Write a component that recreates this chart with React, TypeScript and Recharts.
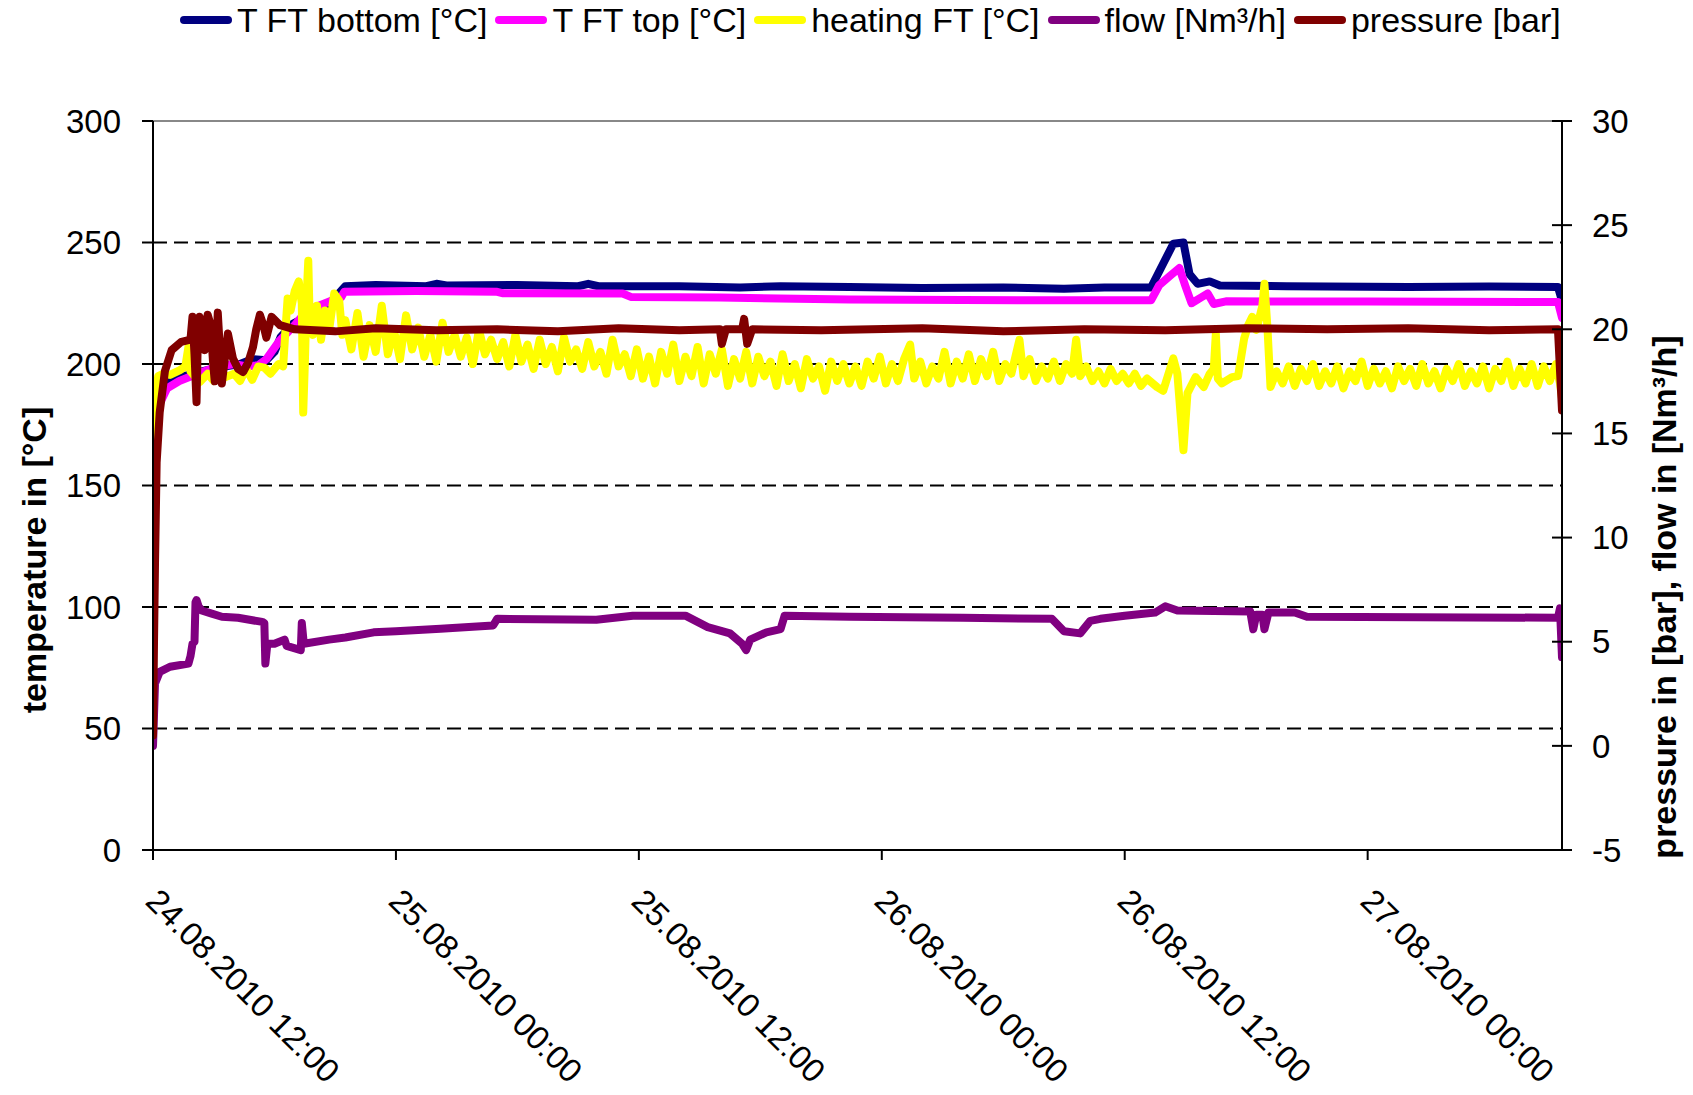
import React from "react";
import { LineChart, Line, XAxis, YAxis, CartesianGrid, ReferenceLine } from "recharts";

const FONT = '"Liberation Sans", Arial, sans-serif';

// x axis: hours since 24.08.2010 12:00
const timeTicks = [0, 12, 24, 36, 48, 60];
const timeLabels = [
  "24.08.2010 12:00",
  "25.08.2010 00:00",
  "25.08.2010 12:00",
  "26.08.2010 00:00",
  "26.08.2010 12:00",
  "27.08.2010 00:00",
];
const tempTicks = [0, 50, 100, 150, 200, 250, 300];
const rightTicks = [-5, 0, 5, 10, 15, 20, 25, 30];

const seriesNames = ["T FT bottom [°C]", "T FT top [°C]", "heating FT [°C]", "flow [Nm³/h]", "pressure [bar]"];
const seriesColors = ["#000080", "#FF00FF", "#FFFF00", "#800080", "#800000"];

// [hour, °C]
const bottomPts: [number, number][] = [
  [0, 160], [0.1, 180], [0.3, 187], [0.6, 192], [1.3, 194.5], [2.2, 196.5], [3.2, 198.5], [4.3, 200],
  [4.9, 202], [5.6, 201.5], [6.0, 205], [6.3, 211], [6.9, 216.5], [7.6, 219.5], [8.25, 222], [8.9, 226.5],
  [9.5, 232], [11, 232.5], [13.5, 232], [14, 233], [14.5, 232.3], [18, 232.5], [21, 232], [21.5, 233],
  [22, 232], [26, 232], [29, 231.5], [31, 232], [34.4, 231.7], [38, 231.3], [42, 231.5], [45, 231],
  [47, 231.5], [49.3, 231.5], [50.4, 249.5], [50.9, 250], [51.2, 237], [51.6, 233], [52.2, 234],
  [52.7, 232.3], [56, 232], [62, 231.7], [66, 231.9], [69.4, 231.7], [69.6, 226],
];

const topPts: [number, number][] = [
  [0, 155], [0.1, 176], [0.35, 184], [0.7, 190], [1.3, 193], [2.2, 196], [3.0, 198.5], [4.0, 200],
  [4.6, 199], [5.2, 199.5], [5.6, 202], [6.27, 209.8], [7.0, 216], [7.6, 222], [8.9, 226.3], [9.3, 227.5],
  [9.45, 229.7], [13, 230], [17, 229.7], [17.3, 229.1], [23.2, 229], [23.6, 227.6], [28, 227.4],
  [34.4, 226.5], [40, 226.3], [49.3, 226.2], [49.7, 232.4], [50.2, 236], [50.7, 239.5], [51.0, 232],
  [51.3, 225], [51.8, 227.5], [52.1, 229], [52.4, 224.7], [53, 225.8], [60, 225.7], [69.4, 225.5], [69.6, 219],
];

const heatingPts: [number, number][] = [
  [0, 145], [0.05, 170], [0.1, 186], [0.26, 195], [0.5, 196], [0.84, 195.5], [1.33, 197.5], [1.6, 199],
  [1.75, 207], [1.85, 197], [2.3, 192.5], [2.7, 196], [3.0, 193], [3.3, 200], [3.55, 194.5], [4.0, 196],
  [4.3, 193], [4.6, 198], [4.9, 193.5], [5.2, 199], [5.5, 198.5], [5.8, 196], [6.2, 200], [6.43, 199],
  [6.55, 215], [6.65, 227], [6.8, 222], [7.0, 230], [7.2, 234], [7.35, 225], [7.42, 180], [7.5, 200],
  [7.6, 230], [7.67, 242.5], [7.75, 215], [7.9, 212], [8.1, 224], [8.3, 210], [8.5, 222], [8.7, 214],
  [8.95, 229], [9.2, 226], [9.35, 212],
  [9.5, 218], [9.8, 206], [10.1, 221], [10.4, 203], [10.7, 216], [11.0, 205], [11.3, 224], [11.6, 204],
  [11.9, 214], [12.2, 202], [12.5, 220], [12.8, 206], [13.1, 215], [13.4, 203], [13.7, 212], [14.0, 201],
  [14.3, 217], [14.6, 205], [14.9, 212], [15.2, 203], [15.5, 211], [15.8, 200], [16.1, 214], [16.4, 204],
  [16.7, 210], [17.0, 202],
  [17.3, 209], [17.6, 199], [17.9, 212], [18.2, 201], [18.5, 208], [18.8, 198], [19.1, 210], [19.4, 200],
  [19.7, 207], [20.0, 197], [20.3, 211], [20.6, 201], [20.9, 206], [21.2, 198], [21.5, 209], [21.8, 199],
  [22.1, 205], [22.4, 196], [22.7, 210], [23.0, 199], [23.3, 204],
  [23.6, 195], [23.9, 206], [24.2, 194], [24.5, 203], [24.8, 192], [25.1, 205], [25.4, 196], [25.7, 208],
  [26.0, 193], [26.3, 203], [26.6, 195], [26.9, 207], [27.2, 192], [27.5, 204], [27.8, 196], [28.1, 206],
  [28.4, 191], [28.7, 202], [29.0, 194], [29.3, 205], [29.6, 192], [29.9, 203], [30.2, 195], [30.5, 201],
  [30.8, 191], [31.1, 204], [31.4, 193], [31.7, 200], [32.0, 190], [32.3, 202], [32.6, 194], [32.9, 199],
  [33.2, 189], [33.5, 201], [33.8, 193], [34.1, 200], [34.4, 192],
  [34.7, 199], [35.0, 191], [35.3, 201], [35.6, 194], [35.9, 203], [36.2, 192], [36.5, 200], [36.8, 193],
  [37.1, 202], [37.4, 208], [37.6, 194], [37.9, 201], [38.2, 192], [38.5, 199], [38.8, 194], [39.1, 205],
  [39.4, 192], [39.7, 201], [40.0, 194], [40.3, 204], [40.6, 193], [40.9, 202], [41.2, 195], [41.5, 205],
  [41.8, 193], [42.1, 200], [42.4, 196], [42.8, 210], [43.0, 195], [43.3, 202], [43.6, 193], [43.9, 199],
  [44.2, 194], [44.5, 201], [44.8, 193], [45.1, 200], [45.4, 196], [45.6, 210], [45.8, 195], [46.1, 199],
  [46.4, 193], [46.7, 197], [47.0, 192], [47.3, 198], [47.6, 193], [47.9, 196], [48.2, 192], [48.5, 196],
  [48.8, 191], [49.1, 194], [49.6, 190.5], [49.9, 189], [50.4, 202.3], [50.6, 196], [50.9, 164.5],
  [51.1, 188], [51.5, 194.6], [51.9, 190.5], [52.2, 196], [52.4, 198], [52.5, 212.5], [52.6, 194],
  [52.8, 192], [53.3, 194.6], [53.6, 195], [53.9, 210.5], [54.1, 216], [54.3, 219.4], [54.5, 214],
  [54.8, 224], [54.9, 233], [55.05, 215], [55.2, 190.5], [55.5, 197], [55.8, 192],
  [56.1, 199], [56.4, 191], [56.7, 198], [57.0, 193], [57.3, 200], [57.6, 191], [57.9, 197], [58.2, 192],
  [58.5, 199], [58.8, 190], [59.1, 197], [59.4, 193], [59.7, 201], [60.0, 191], [60.3, 198], [60.6, 192],
  [60.9, 197], [61.2, 190], [61.5, 199], [61.8, 193], [62.1, 198], [62.4, 191], [62.7, 200], [63.0, 192],
  [63.3, 197], [63.6, 190], [63.9, 198], [64.2, 193], [64.5, 200], [64.8, 191], [65.1, 197], [65.4, 192],
  [65.7, 199], [66.0, 190], [66.3, 198], [66.6, 193], [66.9, 201], [67.2, 191], [67.5, 198], [67.8, 192],
  [68.1, 200], [68.4, 191], [68.7, 199], [69.0, 193], [69.3, 200], [69.5, 192], [69.6, 186],
];

// [hour, Nm³/h]
const flowPts: [number, number][] = [
  [0, 0], [0.05, 1.5], [0.1, 3.0], [0.33, 3.55], [0.84, 3.8], [1.75, 3.95], [1.85, 4.3], [1.95, 4.9],
  [2.05, 5.0], [2.1, 6.9], [2.15, 7.0], [2.25, 6.7], [2.4, 6.5], [2.9, 6.35], [3.4, 6.2], [4.2, 6.15],
  [5.4, 5.95], [5.5, 5.9], [5.55, 3.95], [5.65, 4.9], [6.0, 4.9], [6.5, 5.1], [6.6, 4.8], [7.3, 4.6],
  [7.35, 5.9], [7.45, 4.9], [8.7, 5.1], [9.5, 5.2], [10.9, 5.45], [12, 5.5], [14.2, 5.62], [16.8, 5.78],
  [17.0, 6.1], [21.9, 6.05], [23.7, 6.25], [26.3, 6.25], [27.4, 5.7], [28.5, 5.4], [29.1, 4.9], [29.3, 4.6],
  [29.5, 5.1], [30.3, 5.45], [31.0, 5.6], [31.2, 6.25], [34.4, 6.2], [40, 6.15], [44.4, 6.1], [45.0, 5.5],
  [45.8, 5.4], [46.3, 6.0], [46.8, 6.1], [48, 6.25], [49.5, 6.4], [50, 6.7], [50.6, 6.5], [54.2, 6.45],
  [54.35, 5.6], [54.5, 6.3], [54.8, 6.3], [54.9, 5.6], [55.1, 6.4], [56.4, 6.4], [57, 6.2], [69.4, 6.15],
  [69.5, 6.6], [69.6, 4.25],
];

// [hour, bar]
const pressurePts: [number, number][] = [
  [0, 0.5], [0.05, 5], [0.1, 8.8], [0.18, 13.6], [0.33, 16], [0.59, 18], [0.92, 19], [1.4, 19.4],
  [1.85, 19.5], [1.95, 20.6], [2.05, 18.8], [2.15, 16.5], [2.22, 19.8], [2.3, 20.6], [2.4, 20.3],
  [2.55, 19.0], [2.7, 20.7], [2.85, 20.2], [2.96, 18.5], [3.05, 17.5], [3.2, 20.8], [3.4, 17.4],
  [3.7, 19.8], [3.95, 18.6], [4.2, 18.1], [4.45, 17.95], [4.7, 18.4], [4.94, 19.15], [5.1, 20.0],
  [5.28, 20.7], [5.45, 20.2], [5.6, 19.6], [5.86, 20.6], [6.27, 20.2], [7, 20.0], [9, 19.9], [11, 20.05],
  [14, 19.95], [17, 20.0], [20, 19.9], [23, 20.05], [26, 19.95], [28.0, 20.0], [28.1, 19.3], [28.3, 20.0],
  [29.1, 20.0], [29.2, 20.5], [29.35, 19.3], [29.6, 20.0], [33, 19.95], [38, 20.05], [42, 19.9], [46, 20.0],
  [50, 19.95], [54, 20.05], [58, 20.0], [62, 20.05], [66, 19.95], [69.4, 20.0], [69.6, 16.1],
];

const toRows = (pts: [number, number][]) => pts.map(([h, v]) => ({ h, v }));

const DateTick = ({ x, y, payload }: any) => {
  const i = timeTicks.indexOf(payload.value);
  const ax = x - 9;
  const ay = y + 43;
  return (
    <text x={ax} y={ay} transform={`rotate(45 ${ax} ${ay})`} fontSize={33} fontFamily={FONT} fill="#000" textAnchor="start">
      {timeLabels[i]}
    </text>
  );
};

const RightTick = ({ x, y, payload }: any) => (
  <g>
    <line x1={x - 40} x2={x - 20} y1={y} y2={y} stroke="#000" strokeWidth={2} />
    <text x={x} y={y} dy="0.355em" fontSize={33} fontFamily={FONT} fill="#000" textAnchor="start">
      {payload.value}
    </text>
  </g>
);

const axisTitle = (text: string, x: number, y: number) => () => (
  <text transform={`translate(${x} ${y}) rotate(-90)`} textAnchor="middle" fontSize={34} fontWeight="bold" fontFamily={FONT} fill="#000">
    {text}
  </text>
);

const ChartLegend = () => (
  <div style={{ position: "absolute", left: 180, top: 0, height: 40, display: "flex", alignItems: "center", fontFamily: FONT, fontSize: 34, whiteSpace: "nowrap" }}>
    {seriesNames.map((name, i) => (
      <div key={name} style={{ display: "flex", alignItems: "center", marginRight: 8 }}>
        <span style={{ display: "inline-block", width: 52, height: 8, borderRadius: 4, background: seriesColors[i], marginRight: 5 }} />
        <span style={{ color: "#000" }}>{name}</span>
      </div>
    ))}
  </div>
);

const lineStyle = { strokeWidth: 8, strokeLinejoin: "round" as const, strokeLinecap: "round" as const, dot: false, isAnimationActive: false };

const App = () => (
  <div style={{ position: "absolute", left: 0, top: 0, width: 1693, height: 1095, background: "#fff" }}>
    <LineChart width={1693} height={1095} margin={{ top: 121, right: 0, bottom: 0, left: 0 }}>
      <CartesianGrid yAxisId="left" vertical={false} horizontalValues={[50, 100, 150, 200, 250]} stroke="#000" strokeWidth={2} strokeDasharray="14 7" />
      <XAxis
        dataKey="h"
        type="number"
        domain={[0, 69.6]}
        allowDataOverflow
        ticks={timeTicks}
        interval={0}
        height={245}
        tickSize={10}
        tickMargin={0}
        axisLine={{ stroke: "#000", strokeWidth: 2 }}
        tickLine={{ stroke: "#000", strokeWidth: 2 }}
        tick={<DateTick />}
      />
      <YAxis
        yAxisId="left"
        domain={[0, 300]}
        ticks={tempTicks}
        interval={0}
        width={153}
        tickSize={11}
        tickMargin={21}
        axisLine={{ stroke: "#000", strokeWidth: 2 }}
        tickLine={{ stroke: "#000", strokeWidth: 2 }}
        tick={{ fill: "#000", fontSize: 33, fontFamily: FONT }}
        label={{ value: "temperature in [°C]", content: axisTitle("temperature in [°C]", 46, 560) }}
      />
      <YAxis
        yAxisId="right"
        orientation="right"
        domain={[-5, 30]}
        ticks={rightTicks}
        interval={0}
        width={131}
        tickSize={10}
        tickMargin={20}
        axisLine={{ stroke: "#000", strokeWidth: 2 }}
        tickLine={false}
        tick={<RightTick />}
        label={{ value: "pressure in [bar], flow in [Nm³/h]", content: axisTitle("pressure in [bar], flow in [Nm³/h]", 1676, 597) }}
      />
      <ReferenceLine yAxisId="left" y={300} stroke="#888" strokeWidth={2} />
      <Line yAxisId="left" data={toRows(bottomPts)} dataKey="v" name={seriesNames[0]} stroke={seriesColors[0]} {...lineStyle} />
      <Line yAxisId="left" data={toRows(topPts)} dataKey="v" name={seriesNames[1]} stroke={seriesColors[1]} {...lineStyle} />
      <Line yAxisId="left" data={toRows(heatingPts)} dataKey="v" name={seriesNames[2]} stroke={seriesColors[2]} {...lineStyle} />
      <Line yAxisId="right" data={toRows(flowPts)} dataKey="v" name={seriesNames[3]} stroke={seriesColors[3]} {...lineStyle} />
      <Line yAxisId="right" data={toRows(pressurePts)} dataKey="v" name={seriesNames[4]} stroke={seriesColors[4]} {...lineStyle} />
    </LineChart>
    <ChartLegend />
  </div>
);

export default App;
